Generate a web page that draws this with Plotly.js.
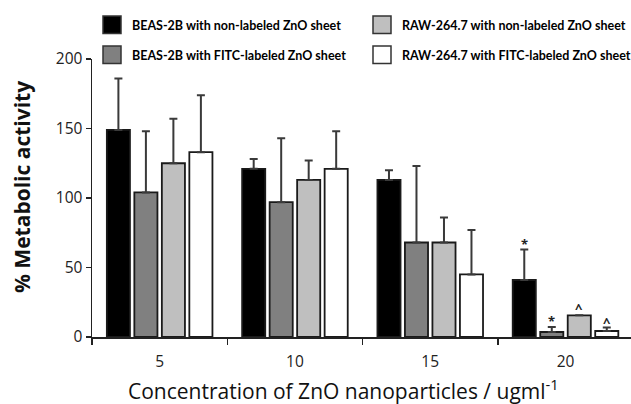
<!DOCTYPE html>
<html>
<head>
<meta charset="utf-8">
<script src="https://cdn.plot.ly/plotly-3.0.1.min.js"></script>
<style>html,body{margin:0;padding:0;background:#fff;}#chart{width:631px;height:404px;}</style>
</head>
<body>
<div id="chart"></div>
<script>
// ---- data ----
const categories = ['5', '10', '15', '20'];
const seriesNames = [
  'BEAS-2B with non-labeled ZnO sheet',
  'BEAS-2B with FITC-labeled ZnO sheet',
  'RAW-264.7 with non-labeled ZnO sheet',
  'RAW-264.7 with FITC-labeled ZnO sheet'
];
const beasNonLabeled      = [149, 121, 113, 41];
const beasNonLabeledErr   = [37, 7, 7, 22];
const beasFitcLabeled     = [104, 97, 68, 3.6];
const beasFitcLabeledErr  = [44, 46, 55, 3.6];
const rawNonLabeled       = [125, 113, 68, 15.6];
const rawNonLabeledErr    = [32, 14, 18, 0];
const rawFitcLabeled      = [133, 121, 45, 4.3];
const rawFitcLabeledErr   = [41, 27, 32, 2.5];
// significance marks at 20 ug/ml (series index, category index, label, y)
const sigSeries   = [0, 1, 2, 3];
const sigCategory = [3, 3, 3, 3];
const sigLabels   = ['*', '*', '^', '^'];
const sigY        = [67, 11.5, 21, 11];

// ---- styling ----
const colors = ['#000000', '#808080', '#bfbfbf', '#ffffff'];
const values = [beasNonLabeled, beasFitcLabeled, rawNonLabeled, rawFitcLabeled];
const errors = [beasNonLabeledErr, beasFitcLabeledErr, rawNonLabeledErr, rawFitcLabeledErr];

const W = 631, H = 404;
const M = {l: 92, r: 0, t: 59, b: 67};
const px = x => (x - M.l) / (W - M.l - M.r);
const py = y => (H - M.b - y) / (H - M.t - M.b);

const bargap = 0.187, bargroupgap = 0.16;
const pitch = (1 - bargap) / 4;

const traces = values.map((v, i) => ({
  type: 'bar',
  name: seriesNames[i],
  x: categories,
  y: v,
  marker: {color: colors[i], line: {color: '#1a1a1a', width: 1.8}},
  error_y: {type: 'data', symmetric: false, array: errors[i], arrayminus: errors[i].map(() => 0),
            color: '#3a3a3a', thickness: 2, width: 4},
  showlegend: false
}));

const font = 'Open Sans, Liberation Sans, sans-serif';
const annotations = [];
const shapes = [];

// custom legend (2 x 2)
const legCols = [103, 373];
const legRows = [16, 46];
const legOrder = [[0, 2], [1, 3]]; // row -> [col0 series, col1 series]
legOrder.forEach((row, r) => row.forEach((s, c) => {
  shapes.push({type: 'rect', xref: 'paper', yref: 'paper',
    x0: px(legCols[c]), x1: px(legCols[c] + 18), y0: py(legRows[r]), y1: py(legRows[r] + 17.5),
    fillcolor: colors[s], line: {color: '#333', width: 1.5}});
  annotations.push({xref: 'paper', yref: 'paper', x: px(legCols[c] + 27), y: py(legRows[r] + 9),
    xanchor: 'left', yanchor: 'middle', showarrow: false, text: '<b>' + seriesNames[s] + '</b>',
    font: {family: 'Lato, sans-serif', size: 12.5, color: '#000'}});
}));

// significance marks
sigSeries.forEach((s, k) => {
  annotations.push({xref: 'x', yref: 'y', x: sigCategory[k] + (s - 1.5) * pitch, y: sigY[k],
    text: '<b>' + sigLabels[k] + '</b>', showarrow: false, xanchor: 'center', yanchor: 'middle',
    font: {family: font, size: 13, color: '#222'}});
});

// axis titles
annotations.push({xref: 'paper', yref: 'paper', x: px(343), y: py(389), xanchor: 'center', yanchor: 'middle',
  showarrow: false, text: 'Concentration of ZnO nanoparticles / ugml<sup>-1</sup>',
  font: {family: font, size: 21, color: '#111'}});
annotations.push({xref: 'paper', yref: 'paper', x: px(22), y: py(187), xanchor: 'center', yanchor: 'middle',
  showarrow: false, textangle: -90, text: '<b>% Metabolic activity</b>',
  font: {family: font, size: 21, color: '#111'}});

const layout = {
  width: W, height: H,
  margin: M,
  paper_bgcolor: '#fff', plot_bgcolor: '#fff',
  barmode: 'group', bargap: bargap, bargroupgap: bargroupgap,
  showlegend: false,
  font: {family: font, color: '#222'},
  xaxis: {
    type: 'category', range: [-0.5, 3.484], showgrid: false, zeroline: false,
    showline: true, linecolor: '#222', linewidth: 1.5,
    ticks: 'outside', tickson: 'boundaries', ticklen: 6, tickwidth: 1.5, tickcolor: '#222',
    ticklabelstandoff: 10,
    tickfont: {family: font, size: 15.5, color: '#222'}
  },
  yaxis: {
    range: [0, 200], tickvals: [0, 50, 100, 150, 200], showgrid: false, zeroline: false,
    showline: true, linecolor: '#222', linewidth: 1.5,
    ticks: 'outside', ticklen: 5, tickwidth: 1.5, tickcolor: '#222',
    tickfont: {family: font, size: 15.5, color: '#222'}
  },
  annotations: annotations,
  shapes: shapes
};

Plotly.newPlot('chart', traces, layout, {displayModeBar: false, staticPlot: true});
</script>
</body>
</html>
